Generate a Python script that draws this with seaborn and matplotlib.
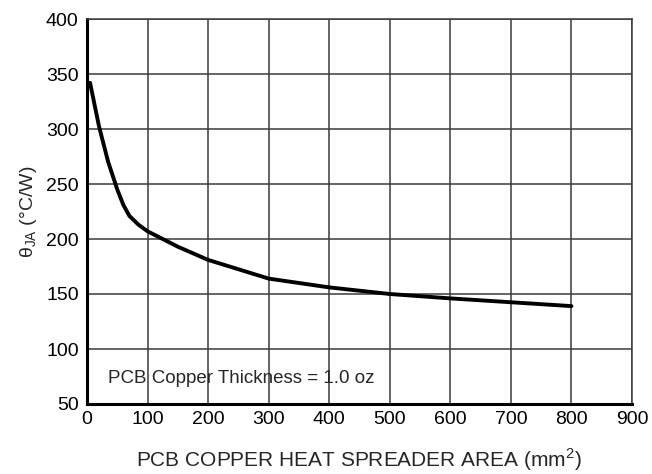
import matplotlib
matplotlib.use("Agg")
import matplotlib.pyplot as plt
import seaborn as sns
import pandas as pd

area = [5, 20, 35, 50, 60, 70, 85, 100, 150, 200, 300, 400, 500, 600, 700, 800]
theta_ja = [342, 302, 270, 245, 231, 221, 213, 207, 193, 181, 164, 156, 150, 146, 142.5, 139]
x_ticks = [0, 100, 200, 300, 400, 500, 600, 700, 800, 900]
y_ticks = [50, 100, 150, 200, 250, 300, 350, 400]
note = "PCB Copper Thickness = 1.0 oz"

sns.set_style("white")
plt.rcParams['font.family'] = ['Liberation Sans', 'DejaVu Sans']
plt.rcParams['mathtext.fontset'] = 'custom'
plt.rcParams['mathtext.rm'] = 'Liberation Sans'

df = pd.DataFrame({"area": area, "theta": theta_ja})

fig = plt.figure(figsize=(6.52, 4.74), dpi=100)
ax = fig.add_axes([87/652, 1-404/474, (632-87)/652, (404-19)/474])

sns.lineplot(data=df, x="area", y="theta", ax=ax, color="black", linewidth=2.8)

ax.set_xlim(0, 900)
ax.set_ylim(50, 400)
ax.set_xticks(x_ticks)
ax.set_yticks(y_ticks)
ax.grid(True, color="#3a3a3a", linewidth=1.1)
ax.set_axisbelow(True)
for s in ["top", "right"]:
    ax.spines[s].set_color("#3a3a3a")
    ax.spines[s].set_linewidth(1.1)
for s in ["left", "bottom"]:
    ax.spines[s].set_color("black")
    ax.spines[s].set_linewidth(2.2)
ax.tick_params(axis="both", length=0, labelsize=14, colors="black")
ax.tick_params(axis="y", pad=6)
ax.tick_params(axis="x", pad=5)

ax.set_xlabel("")
fig.text(358.5/652, 1-467/474, "PCB COPPER HEAT SPREADER AREA (mm$^{2}$)",
         fontsize=15, ha="center", va="baseline")
ax.set_ylabel(r"θ$_{\mathrm{JA}}$ (°C/W)", fontsize=14, labelpad=5)
ax.text(35, 73, note, fontsize=13.5, ha="left", va="center")

fig.savefig("out.png", dpi=100)
